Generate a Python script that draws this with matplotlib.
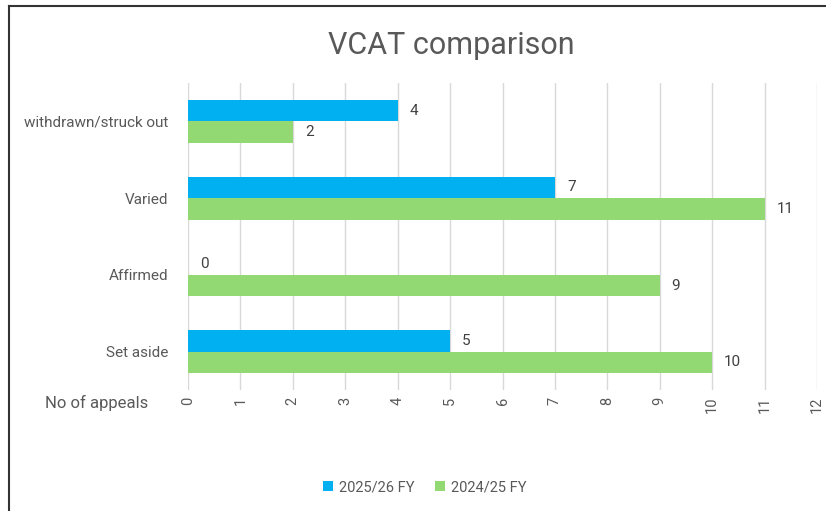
import matplotlib.pyplot as plt
from matplotlib.lines import Line2D
import numpy as np

plt.rcParams['font.family'] = ['Roboto', 'DejaVu Sans']

# Data (bottom to top)
categories = ['Set aside', 'Affirmed', 'Varied', 'withdrawn/struck out']
fy_2025_26 = [5, 0, 7, 4]
fy_2024_25 = [10, 9, 11, 2]
x_ticks = list(range(0, 13))

blue = '#00B0F0'
green = '#92D873'
text_grey = '#595959'

fig = plt.figure(figsize=(8.26, 5.11), dpi=100, facecolor='white')
ax = fig.add_axes([188 / 826, 1 - 390 / 511, (817 - 188) / 826, (390 - 83) / 511])

y = np.arange(len(categories))
h = 0.28
b1 = ax.barh(y + h / 2, fy_2025_26, height=h, color=blue, label='2025/26 FY', zorder=3)
b2 = ax.barh(y - h / 2, fy_2024_25, height=h, color=green, label='2024/25 FY', zorder=3)

# Data labels
for bars, vals in ((b1, fy_2025_26), (b2, fy_2024_25)):
    for bar, v in zip(bars, vals):
        ax.annotate(str(v), (v, bar.get_y() + bar.get_height() / 2),
                    xytext=(12, 0), textcoords='offset pixels',
                    ha='left', va='center', fontsize=11, color='#404040')

ax.set_xlim(0, 12)
ax.set_ylim(-0.5, len(categories) - 0.5)
ax.set_xticks(x_ticks)
ax.set_xticklabels([str(t) for t in x_ticks], rotation=90)
ax.set_yticks(y)
ax.set_yticklabels(categories)
ax.tick_params(axis='both', length=0, colors=text_grey, labelsize=10.5)
ax.tick_params(axis='y', pad=14, labelsize=11)
ax.tick_params(axis='x', pad=5)
ax.grid(axis='x', color='#d9d9d9', linewidth=1, zorder=0)
ax.set_axisbelow(True)
for s in ax.spines.values():
    s.set_visible(False)

# Title and axis title
fig.text(451 / 826, 1 - 45 / 511, 'VCAT comparison', ha='center', va='center',
         fontsize=22, color=text_grey)
fig.text(45 / 826, 1 - 403 / 511, 'No of appeals', ha='left', va='center',
         fontsize=12, color=text_grey)

# Legend
fig.legend(handles=[b1, b2], loc='center', bbox_to_anchor=(425 / 826, 1 - 487 / 511),
           ncol=2, frameon=False, fontsize=10.5, labelcolor=text_grey,
           handlelength=0.7, handleheight=0.7, handletextpad=0.4, columnspacing=1.4)

# Chart frame (left and top edges visible)
fig.add_artist(Line2D([8.5 / 826, 8.5 / 826], [0, 1 - 6 / 511], transform=fig.transFigure,
                      color='#333333', linewidth=1.5))
fig.add_artist(Line2D([8.5 / 826, 1], [1 - 6 / 511, 1 - 6 / 511], transform=fig.transFigure,
                      color='#333333', linewidth=1.5))

fig.savefig('out.png', dpi=100, facecolor='white')
